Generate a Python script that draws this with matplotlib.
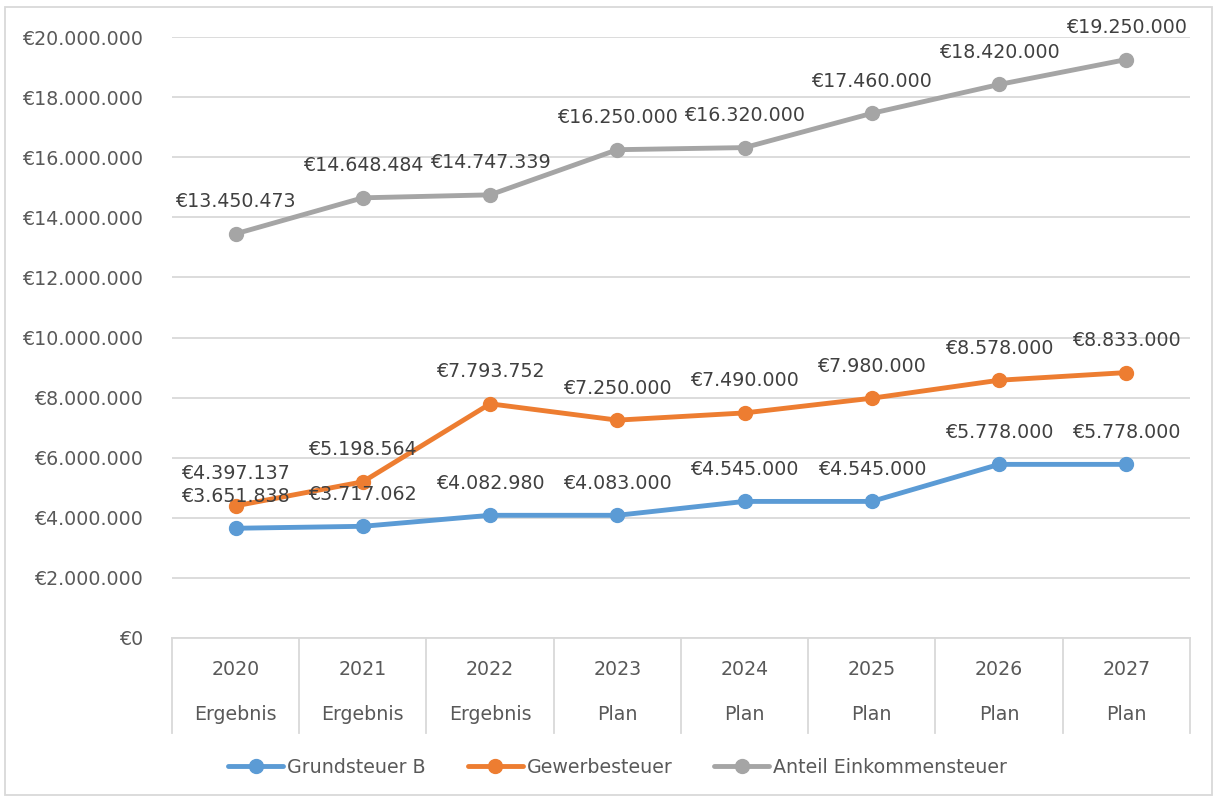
import matplotlib
matplotlib.use("Agg")
from matplotlib import pyplot as plt
from matplotlib.patches import Rectangle
import matplotlib.transforms as mtransforms
import numpy as np

plt.rcParams['font.family'] = ['DejaVu Sans']

years = ['2020', '2021', '2022', '2023', '2024', '2025', '2026', '2027']
status = ['Ergebnis', 'Ergebnis', 'Ergebnis', 'Plan', 'Plan', 'Plan', 'Plan', 'Plan']

grundsteuer_b = [3651838, 3717062, 4082980, 4083000, 4545000, 4545000, 5778000, 5778000]
gewerbesteuer = [4397137, 5198564, 7793752, 7250000, 7490000, 7980000, 8578000, 8833000]
einkommensteuer = [13450473, 14648484, 14747339, 16250000, 16320000, 17460000, 18420000, 19250000]

series_names = ['Grundsteuer B', 'Gewerbesteuer', 'Anteil Einkommensteuer']
series_colors = ['#5B9BD5', '#ED7D31', '#A5A5A5']

text_col = '#595959'
grid_col = '#D9D9D9'
fs = 13.7


def euro(v):
    return '€' + f'{int(v):,}'.replace(',', '.')


fig = plt.figure(figsize=(12.18, 8.01), dpi=100)
ax = fig.add_axes([0.1412, 0.2035, 0.8358, 0.7503])

x = np.arange(len(years))
for vals, name, col in zip([grundsteuer_b, gewerbesteuer, einkommensteuer], series_names, series_colors):
    ax.plot(x, vals, color=col, lw=3.5, marker='o', ms=10, label=name,
            solid_capstyle='round', zorder=3)
    for xi, v in zip(x, vals):
        ax.annotate(euro(v), (xi, v), xytext=(0, 23), textcoords='offset points',
                    ha='center', va='center', fontsize=fs, color='#404040', zorder=4)

ax.set_xlim(-0.5, 7.5)
ax.set_ylim(0, 20000000)
ax.set_yticks(np.arange(0, 20000001, 2000000))
ax.set_yticklabels([euro(v) for v in np.arange(0, 20000001, 2000000)])
ax.tick_params(axis='y', length=0, pad=21, labelsize=fs, labelcolor=text_col)
ax.set_xticks([])
ax.grid(axis='y', color=grid_col, lw=1.3)
ax.set_axisbelow(True)
for s in ['top', 'right', 'left']:
    ax.spines[s].set_visible(False)
ax.spines['bottom'].set_color(grid_col)
ax.spines['bottom'].set_linewidth(1.3)

# two-level category axis
trans = mtransforms.blended_transform_factory(ax.transData, ax.transAxes)
for xi, yr, st in zip(x, years, status):
    ax.text(xi, -0.052, yr, transform=trans, ha='center', va='center',
            fontsize=fs, color=text_col)
    ax.text(xi, -0.128, st, transform=trans, ha='center', va='center',
            fontsize=fs, color=text_col)
for b in np.arange(-0.5, 8.0, 1.0):
    ax.plot([b, b], [0, -0.158], transform=trans, color=grid_col, lw=1.3, clip_on=False)

leg = fig.legend(loc='center', bbox_to_anchor=(0.507, 0.042), ncol=3, frameon=False,
                 fontsize=fs, handlelength=2.9, columnspacing=2.2, handletextpad=0.2)
for t in leg.get_texts():
    t.set_color(text_col)

fig.patches.append(Rectangle((5 / 1218, 6 / 801), 1207 / 1218, 788 / 801,
                             transform=fig.transFigure, fill=False,
                             edgecolor='#D9D9D9', lw=1.3))

fig.savefig('out.png', dpi=100)
